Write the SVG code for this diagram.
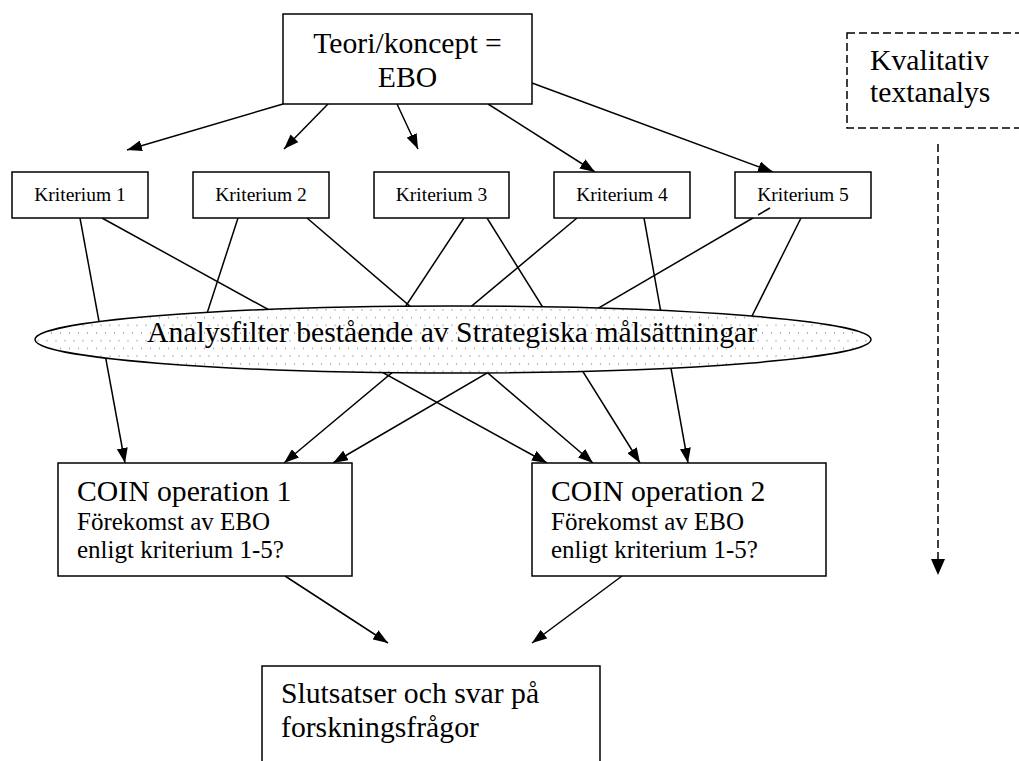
<svg xmlns="http://www.w3.org/2000/svg" width="1019" height="761" viewBox="0 0 1019 761" font-family="'Liberation Serif', Tinos, 'DejaVu Serif', serif">
<style>
.box{fill:#fff;stroke:#000;stroke-width:1.5}
.dash{fill:#fff;stroke:#000;stroke-width:1.5;stroke-dasharray:8 4}
.ln{stroke:#000;stroke-width:1.5;fill:none}
.arr{stroke:#000;stroke-width:1.5;fill:none;marker-end:url(#ah)}
text{font-family:'Liberation Serif', Tinos, 'DejaVu Serif', serif;fill:#000}
.big{font-size:29.7px}
.mid{font-size:25px}
.sm{font-size:19.5px}
</style>
<defs>
<marker id="ah" viewBox="0 0 15 11" refX="15" refY="5.5" markerWidth="15" markerHeight="11" markerUnits="userSpaceOnUse" orient="auto">
<path d="M0,0 L15,5.5 L0,11 z" fill="#000"/>
</marker>
<marker id="ah2" viewBox="0 0 16 14" refX="16" refY="7" markerWidth="16" markerHeight="14" markerUnits="userSpaceOnUse" orient="auto">
<path d="M0,0 L16,7 L0,14 z" fill="#000"/>
</marker>
<pattern id="dots" width="9" height="15.4" patternUnits="userSpaceOnUse">
<rect width="9" height="15.4" fill="#fff"/>
<circle cx="2" cy="2" r="0.7" fill="#888"/>
<circle cx="6.5" cy="9.7" r="0.7" fill="#888"/>
</pattern>
</defs>

<g id="connectors">
<line class="arr" x1="283" y1="104" x2="127" y2="150"/>
<line class="arr" x1="328" y1="104" x2="284" y2="149"/>
<line class="arr" x1="397" y1="104" x2="418" y2="149"/>
<line class="arr" x1="488" y1="104" x2="595" y2="172"/>
<line class="arr" x1="532" y1="83" x2="773" y2="172"/>
<line class="arr" x1="80" y1="218" x2="125" y2="463"/>
<line class="arr" x1="102" y1="218" x2="547" y2="463"/>
<line class="ln" x1="238" y1="218" x2="200" y2="335"/>
<line class="arr" x1="307" y1="218" x2="593" y2="463"/>
<line class="ln" x1="464" y1="218" x2="390" y2="330"/>
<line class="arr" x1="487" y1="218" x2="640" y2="463"/>
<line class="arr" x1="577" y1="218" x2="284" y2="463"/>
<line class="arr" x1="644" y1="218" x2="688" y2="463"/>
<line class="arr" x1="758" y1="215" x2="333" y2="463"/>
<line class="ln" x1="801" y1="218" x2="740" y2="340"/>
<line class="arr" x1="285" y1="576" x2="388" y2="643"/>
<line class="arr" x1="622" y1="576" x2="532" y2="643"/>
<line x1="938" y1="144" x2="938" y2="575" stroke="#000" stroke-width="1.5" stroke-dasharray="8 4" marker-end="url(#ah2)"/>
</g>

<g id="teori">
<rect class="box" x="283" y="14" width="249" height="90"/>
<text class="big" x="407.5" y="53" text-anchor="middle">Teori/koncept =</text>
<text class="big" x="407.5" y="87" text-anchor="middle">EBO</text>
</g>

<g id="kvalitativ">
<rect class="dash" x="847" y="33" width="190" height="95"/>
<text class="big" x="870" y="70">Kvalitativ</text>
<text class="big" x="870" y="102">textanalys</text>
</g>

<g id="k1">
<rect class="box" x="12" y="172" width="136" height="46"/>
<text class="sm" x="80" y="201" text-anchor="middle">Kriterium 1</text>
</g>
<g id="k2">
<rect class="box" x="193" y="172" width="136" height="46"/>
<text class="sm" x="261" y="201" text-anchor="middle">Kriterium 2</text>
</g>
<g id="k3">
<rect class="box" x="374" y="172" width="135" height="46"/>
<text class="sm" x="441.5" y="201" text-anchor="middle">Kriterium 3</text>
</g>
<g id="k4">
<rect class="box" x="554" y="172" width="136" height="46"/>
<text class="sm" x="622" y="201" text-anchor="middle">Kriterium 4</text>
</g>
<g id="k5">
<rect class="box" x="735" y="172" width="136" height="46"/>
<text class="sm" x="803" y="201" text-anchor="middle">Kriterium 5</text>
</g>
<line class="ln" x1="758" y1="215" x2="770" y2="208"/>

<g id="filter">
<ellipse cx="453" cy="339.5" rx="418" ry="33.5" fill="url(#dots)" stroke="#000" stroke-width="1.5"/>
<text class="big" x="147" y="342">Analysfilter bestående av Strategiska målsättningar</text>
</g>

<g id="coin1">
<rect class="box" x="58" y="463" width="294" height="113"/>
<text class="big" x="77" y="501">COIN operation 1</text>
<text class="mid" x="77" y="530">Förekomst av EBO</text>
<text class="mid" x="77" y="558">enligt kriterium 1-5?</text>
</g>

<g id="coin2">
<rect class="box" x="532" y="463" width="294" height="113"/>
<text class="big" x="551" y="501">COIN operation 2</text>
<text class="mid" x="551" y="530">Förekomst av EBO</text>
<text class="mid" x="551" y="558">enligt kriterium 1-5?</text>
</g>

<g id="slutsatser">
<rect class="box" x="262" y="666" width="338" height="110"/>
<text class="big" x="281" y="703">Slutsatser och svar på</text>
<text class="big" x="281" y="737">forskningsfrågor</text>
</g>
</svg>
